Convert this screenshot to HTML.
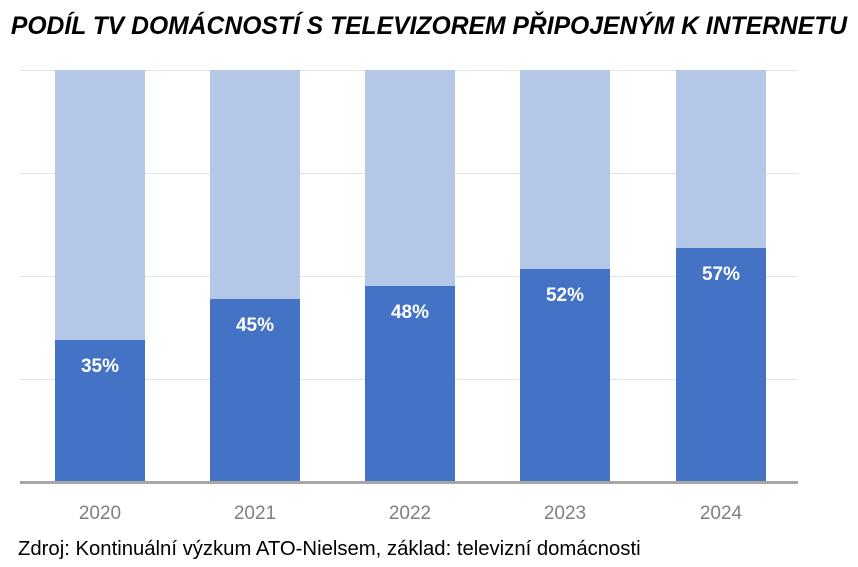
<!DOCTYPE html>
<html><head><meta charset="utf-8"><style>
body{margin:0;background:#fff;width:858px;height:567px;overflow:hidden;position:relative;font-family:"Liberation Sans",sans-serif}
.t{position:absolute;left:0;width:858px;top:13px;text-align:center;font:italic bold 24.7px "Liberation Sans",sans-serif;color:#000;white-space:nowrap}
.g{position:absolute;left:20px;width:778px;height:1px;background:#e3e3e3}
.b{position:absolute;width:90px;background:#b4c7e7;top:70px;height:411px}
.d{position:absolute;width:90px;background:#4472c4;bottom:86px}
.v{position:absolute;width:90px;text-align:center;color:#fff;font-weight:bold;font-size:19px}
.y{position:absolute;width:90px;text-align:center;color:#7f7f7f;font-size:19px;top:503px}
.s{position:absolute;left:18px;top:538px;font-size:20.3px;color:#000;white-space:nowrap}
</style></head><body>
<div class="t">PODÍL TV DOMÁCNOSTÍ S TELEVIZOREM PŘIPOJENÝM K INTERNETU</div>
<div class="g" style="top:70px"></div><div class="g" style="top:173px"></div><div class="g" style="top:276px"></div><div class="g" style="top:379px"></div>
<div class="b" style="left:55px"></div><div class="d" style="left:55px;top:340px"></div><div class="v" style="left:55px;top:356px">35%</div>
<div class="b" style="left:210px"></div><div class="d" style="left:210px;top:299px"></div><div class="v" style="left:210px;top:315px">45%</div>
<div class="b" style="left:365px"></div><div class="d" style="left:365px;top:286px"></div><div class="v" style="left:365px;top:302px">48%</div>
<div class="b" style="left:520px"></div><div class="d" style="left:520px;top:269px"></div><div class="v" style="left:520px;top:285px">52%</div>
<div class="b" style="left:676px"></div><div class="d" style="left:676px;top:248px"></div><div class="v" style="left:676px;top:264px">57%</div>
<div style="position:absolute;left:20px;width:778px;top:481px;height:3px;background:#a6a6a6"></div>
<div class="y" style="left:55px">2020</div><div class="y" style="left:210px">2021</div><div class="y" style="left:365px">2022</div><div class="y" style="left:520px">2023</div><div class="y" style="left:676px">2024</div>
<div class="s">Zdroj: Kontinuální výzkum ATO-Nielsem, základ: televizní domácnosti</div>
</body></html>
